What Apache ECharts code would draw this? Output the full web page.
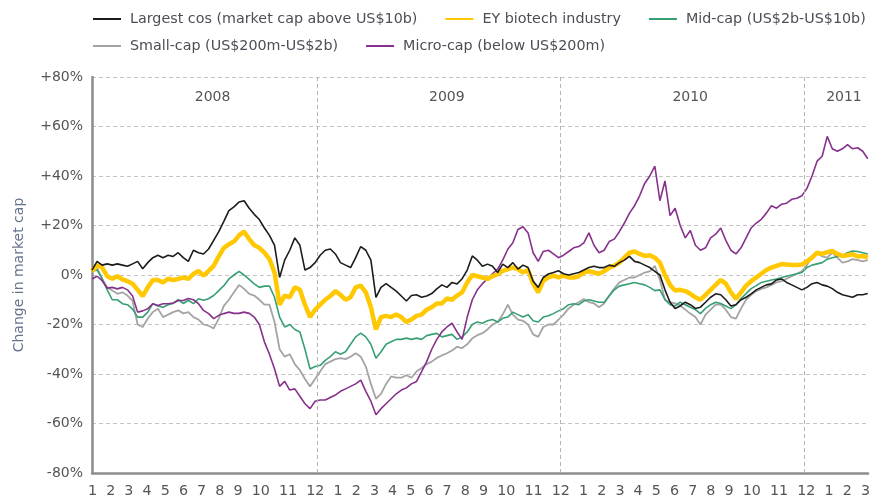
<!DOCTYPE html>
<html>
<head>
<meta charset="utf-8">
<script src="https://cdn.jsdelivr.net/npm/echarts@6/dist/echarts.min.js"></script>
<style>
html,body{margin:0;padding:0;background:#fff;}
#chart{width:871px;height:500px;}
</style>
</head>
<body>
<div id="chart"></div>
<script>
// ---- tick labels / categories ----
const monthLabels = ['1','2','3','4','5','6','7','8','9','10','11','12',
                     '1','2','3','4','5','6','7','8','9','10','11','12',
                     '1','2','3','4','5','6','7','8','9','10','11','12',
                     '1','2','3'];
const years = ['2008','2009','2010','2011'];
const yearStartMonths = [0, 12, 24, 36];      // months since Jan 2008
const yTicks = [-80,-60,-40,-20,0,20,40,60,80];
const seriesNames = ['Largest cos (market cap above US$10b)','EY biotech industry',
  'Mid-cap (US$2b-US$10b)','Small-cap (US$200m-US$2b)','Micro-cap (below US$200m)'];

// samples every quarter month starting ~end of Jan 2008 (months since Jan 2008)
const startMonth = 0.9;
const stepMonth = 0.25;
const endMonth = 39.16;

// ---- series values (% change in market cap) ----
const largestCos = [
  2,5.5,4,4.5,4,4.5,4,3.5,4.5,5.5,
  2.5,5,7,8,7,8,7.5,9,7,5.5,
  10,9,8.5,10.5,14,17.5,21.7,26,27.5,29.5,
  30,27,24.5,22.4,19,16,12,-1,6,10,
  15,12,2,3,5,8,10,10.5,8.5,5,
  4,3,7,11.5,10,6,-9,-5,-3.5,-5,
  -6.5,-8.5,-10.5,-8.3,-8,-9,-8.5,-7.5,-5.6,-4,
  -5,-3,-3.6,-1.5,2,7.7,6,3.5,4.4,3.5,
  1,4.4,3,5,2.4,4,3,-2.5,-5,-1,
  0.4,1,1.7,0.5,0,0.5,1,2,3,3.5,
  3,3,4,3.5,5,6,7.5,5.5,5,4,
  3,1.5,0,-6,-11,-13.5,-12.5,-11,-12,-13.5,
  -13,-11,-9,-7.6,-8,-10,-12.5,-12,-10,-9,
  -7.6,-6,-5,-4,-3.6,-2,-1.6,-3,-4,-5,
  -6,-5,-3.5,-3,-4,-4.5,-5.5,-7,-8,-8.5,
  -9,-8,-8,-7.5
];
const eyBiotech = [
  1.5,4,3,-0.5,-1.5,-0.5,-1.8,-2.5,-3.5,-6,
  -8.5,-5,-2,-2,-3,-1.5,-2,-1.6,-1,-1.6,
  0.4,1.7,-0.3,1.7,3.7,7.5,11,12.4,13.5,16,
  17.5,14.5,12,11,9,6.4,1,-12,-8.3,-9,
  -5,-6,-12,-17,-14,-12,-10,-8.5,-6.5,-8,
  -10,-9,-5,-4.3,-7,-13,-22,-17,-16.5,-17,
  -16,-17,-19,-18,-16.5,-16,-14,-13,-11.5,-11.5,
  -9.5,-10,-8.3,-7,-3,0,-0.5,-1,-1.6,-0.5,
  0.3,1.7,2.4,3,2.4,1,2,-3.5,-7,-2.3,
  -1,-0.3,-1,-0.3,-1,-1,-0.5,1,1.5,1,
  0.5,1.5,3,3.8,5,7,9,9.5,8.5,7.7,
  8,7,5,0,-4,-6.3,-6,-6.5,-7.6,-9,
  -10,-8,-6,-4,-2,-3.5,-7,-9.6,-7,-4.3,
  -2.5,-1,0.5,2,3,3.7,4.4,4.2,4,4,
  4.2,5.5,7,9,8.5,9.2,9.7,8.5,7.7,8,
  8.4,7.5,7.7,7
];
const midCap = [
  1.5,2,-1.5,-6,-10,-10,-11.6,-12,-13.8,-17,
  -17,-15,-11.6,-12.5,-13,-12,-11.5,-10,-11.5,-10.2,
  -11.6,-9.6,-10.2,-9.6,-8.3,-6.3,-4.3,-1.6,0,1.5,
  0,-1.8,-3.6,-5,-4.5,-4.5,-9,-17,-21,-20,
  -22,-23,-30,-38,-37,-36.5,-34.5,-33,-31,-32,
  -31,-28,-25,-23.5,-25,-28,-33.6,-31,-28,-27,
  -26,-26,-25.5,-26,-25.5,-26,-24.5,-24,-23.6,-25,
  -24.5,-24,-26,-25,-23,-20,-19,-19.5,-18.5,-18,
  -19,-17.5,-17,-15,-16,-17,-16,-18.5,-19,-17,
  -16.5,-15.6,-14.5,-13.6,-12,-11.6,-12,-10.5,-10,-10.5,
  -11,-11,-8.5,-6,-4.5,-4,-3.5,-3,-3.5,-4,
  -5,-6.3,-6,-10,-12,-12.5,-11,-12,-13,-14,
  -15.6,-13.5,-12,-11,-11.5,-12.5,-13.6,-12,-9.5,-7.5,
  -5.5,-4.3,-3,-2.5,-2,-1.6,-1,-0.5,0,0.5,
  1,3,4,4.5,5,6.4,7,7.5,7.8,9,
  9.7,9.5,9,8.5
];
const smallCap = [
  1,3,-1.6,-5,-6.3,-7.6,-7,-8.3,-10.5,-20,
  -21,-17.6,-15,-13.6,-17,-16,-15,-14.3,-15.5,-15,
  -17,-18,-20,-20.5,-21.6,-17.6,-12.5,-10,-7,-4,
  -5.6,-7.6,-8.3,-10,-12,-12,-19,-30,-33,-32,
  -36,-38.5,-42,-45,-42,-39,-36,-35,-34,-33.6,
  -34,-33,-31.6,-33,-37,-44,-50,-48,-44,-41,
  -41.5,-41.5,-40.5,-41.5,-39,-37.6,-36,-35,-33.5,-32.5,
  -31.6,-30.5,-29,-29.5,-28,-25.6,-24.3,-23.5,-22,-20,
  -19,-16,-12,-16,-18,-18.5,-20,-24,-25,-21,
  -20,-20,-18,-16,-13.5,-12,-11,-9.7,-11,-11.5,
  -13,-11.5,-8.3,-5.5,-3,-2,-1,-1,0,1,
  1.5,3.7,-2,-10,-11,-11.5,-12.3,-14,-15.6,-17,
  -20,-16,-14,-12,-12,-14,-17,-17.6,-13.5,-10,
  -8,-6.5,-5.6,-5,-4,-3,-2.5,-1.5,-0.5,0.5,
  1.5,4,7.5,9,7.5,7,9,7,5,5.5,
  6.4,6,5.5,6
];
const microCap = [
  -1.6,-0.5,-2.3,-5.3,-5,-5.6,-5,-6,-8.5,-15,
  -14.5,-13.6,-11.6,-12.3,-11.6,-11.6,-11.3,-10.3,-10.3,-9.5,
  -10,-11.6,-14.3,-15.6,-17.6,-16.3,-15.6,-15,-15.5,-15.5,
  -15,-15.5,-17,-20,-27,-32,-38,-45,-43,-46.5,
  -46,-49,-52,-54,-51,-50.5,-50.5,-49.5,-48.5,-47,
  -46,-45,-44,-42.5,-47,-51,-56.5,-54,-52,-50,
  -48,-46.5,-45.6,-44,-43,-39,-35,-30,-26,-23,
  -21,-19.5,-23,-26,-17,-10,-6,-3.5,-1.5,0.5,
  2.4,6,10.4,13,18.4,19.5,17,9,5.5,9.5,
  10,8.5,7,8,9.5,11,11.5,13,17,12,
  9,10,13.5,14.5,17.5,21,25,28,32,37,
  40,44,30,38,24,27,20,15,18,12,
  10,11,15,16.5,19,14,10,8.5,11,15,
  19,21,22.5,25,28,27,28.6,29,30.6,31,
  32,35,40,46,48,56,51,50,51,52.7,
  51,51.4,50,47
];

const seriesValues = [largestCos, eyBiotech, midCap, smallCap, microCap];
const seriesColors = ['#1c1c1c','#ffc800','#37a073','#a4a4a4','#87318c'];
const seriesWidths = [1.6, 4.5, 1.6, 1.8, 1.6];
const seriesZ = [7, 5, 3, 2, 4];

const FONT = 'DejaVu Sans';
const chart = echarts.init(document.getElementById('chart'), null, {renderer: 'canvas'});

function toPairs(vals) {
  return vals.map((v, i) => [startMonth + i * stepMonth, v]);
}

const series = seriesNames.map((name, k) => ({
  name: name,
  type: 'line',
  data: toPairs(seriesValues[k]),
  showSymbol: false,
  symbol: 'none',
  z: seriesZ[k],
  lineStyle: {color: seriesColors[k], width: seriesWidths[k]},
  itemStyle: {color: seriesColors[k]},
  animation: false
}));

// year separators and year labels
series.push({
  name: 'years',
  type: 'line',
  data: [],
  z: 1,
  silent: true,
  markLine: {
    symbol: ['none','none'],
    silent: true,
    label: {show: false},
    lineStyle: {type: [4,3], color: '#b4b4b4', width: 1},
    data: yearStartMonths.filter(m => m > startMonth).map(m => ({xAxis: m}))
  },
  markArea: {
    silent: true,
    itemStyle: {color: 'rgba(0,0,0,0)'},
    label: {show: true, position: 'insideTop', distance: 13, offset: [8, 0],
            color: '#555', fontSize: 14, fontFamily: FONT},
    data: years.map((y, k) => [
      {name: y, xAxis: Math.max(yearStartMonths[k], startMonth)},
      {xAxis: Math.min(yearStartMonths[k] + 12, endMonth)}
    ])
  }
});

const legendCommon = {
  padding: 0,
  itemWidth: 28, itemHeight: 12, itemGap: 27,
  itemStyle: {opacity: 0},
  textStyle: {fontSize: 14.3, fontFamily: FONT, color: '#4d4d57', padding: [0,0,0,4]},
  selectedMode: false
};

chart.setOption({
  animation: false,
  backgroundColor: '#fff',
  grid: {left: 92, right: 3, top: 77, bottom: 27, containLabel: false},
  legend: [
    Object.assign({data: seriesNames.slice(0,3), left: 92, top: 12}, legendCommon),
    Object.assign({data: seriesNames.slice(3), left: 92, top: 39}, legendCommon)
  ],
  xAxis: {
    type: 'value',
    min: startMonth,
    max: endMonth,
    axisLine: {show: true, onZero: false, lineStyle: {color: '#8c8c8c', width: 2.5}},
    axisTick: {show: false},
    axisLabel: {show: false},
    splitLine: {show: false}
  },
  yAxis: {
    type: 'value',
    min: yTicks[0],
    max: yTicks[yTicks.length - 1],
    interval: 20,
    name: 'Change in market cap',
    nameLocation: 'middle',
    nameGap: 66,
    nameTextStyle: {color: '#66758c', fontSize: 14, fontFamily: FONT},
    axisLine: {show: true, onZero: false, lineStyle: {color: '#8c8c8c', width: 2.5}},
    axisTick: {show: false},
    axisLabel: {
      color: '#555', fontSize: 14, fontFamily: FONT, margin: 9,
      formatter: v => (v > 0 ? '+' + v : '' + v) + '%'
    },
    splitLine: {show: true, lineStyle: {type: [4,3], color: '#c4c4c4', width: 1}}
  },
  graphic: [{
    type: 'text',
    left: 88,
    top: 484,
    silent: true,
    style: {
      text: monthLabels.join('  '),
      fontSize: 14.3,
      fontFamily: FONT,
      fill: '#555'
    }
  }],
  series: series
});
</script>
</body>
</html>
